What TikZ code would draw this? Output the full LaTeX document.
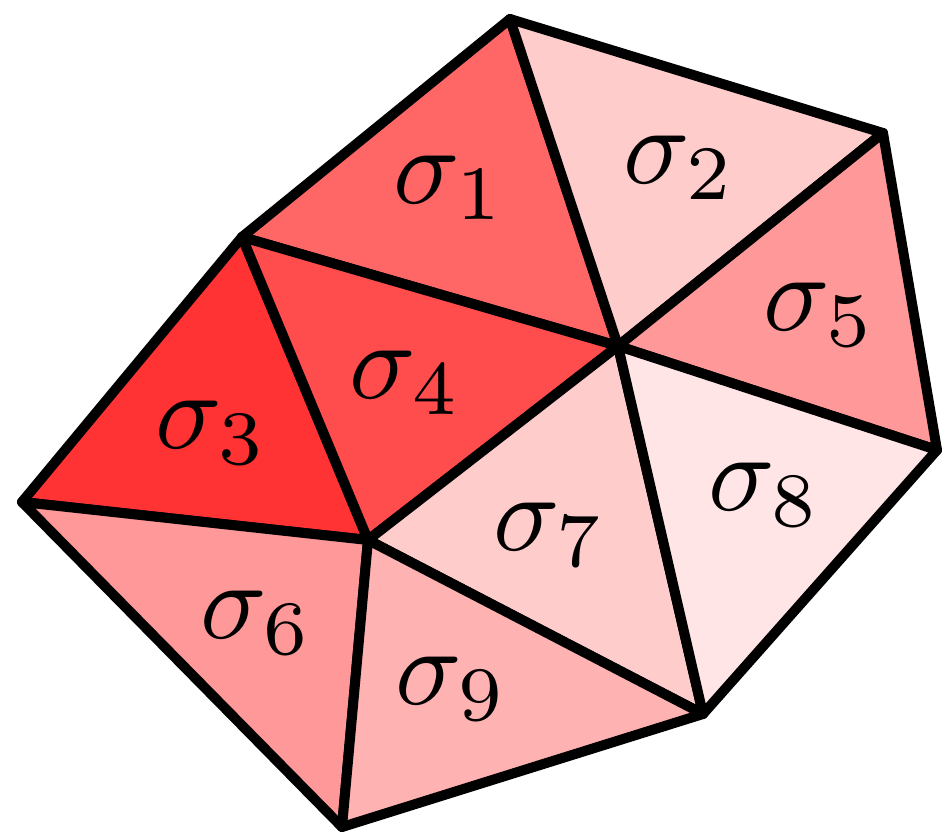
\documentclass[tikz,border=0pt]{standalone}
\begin{document}
\begin{tikzpicture}[x=1pt,y=-1pt,
  tri/.style={draw=black,line width=10pt,line join=round},
  lbl/.style={inner sep=0pt,scale=11}]
\useasboundingbox (0,0) rectangle (943,838);
\coordinate (A) at (510,19);
\coordinate (B) at (883,133);
\coordinate (C) at (937,450);
\coordinate (D) at (703,714);
\coordinate (E) at (342,827);
\coordinate (F) at (22,502);
\coordinate (G) at (242,237);
\coordinate (H) at (618,346);
\coordinate (I) at (368,540);
\filldraw[tri,fill=red!60] (G) -- (A) -- (H) -- cycle;
\filldraw[tri,fill=red!20] (A) -- (B) -- (H) -- cycle;
\filldraw[tri,fill=red!80] (G) -- (I) -- (F) -- cycle;
\filldraw[tri,fill=red!70] (G) -- (H) -- (I) -- cycle;
\filldraw[tri,fill=red!40] (B) -- (C) -- (H) -- cycle;
\filldraw[tri,fill=red!40] (F) -- (I) -- (E) -- cycle;
\filldraw[tri,fill=red!20] (H) -- (I) -- (D) -- cycle;
\filldraw[tri,fill=red!10] (H) -- (C) -- (D) -- cycle;
\filldraw[tri,fill=red!30] (I) -- (E) -- (D) -- cycle;
\node[lbl] (s1) at (450,188) {$\sigma_1$};
\node[lbl] (s2) at (680,168) {$\sigma_2$};
\node[lbl] (s3) at (212,433) {$\sigma_3$};
\node[lbl] (s4) at (406,383) {$\sigma_4$};
\node[lbl] (s5) at (820,315) {$\sigma_5$};
\node[lbl] (s6) at (257,623) {$\sigma_6$};
\node[lbl] (s7) at (550,535) {$\sigma_7$};
\node[lbl] (s8) at (765,495) {$\sigma_8$};
\node[lbl] (s9) at (452,689) {$\sigma_9$};
\end{tikzpicture}
\end{document}
